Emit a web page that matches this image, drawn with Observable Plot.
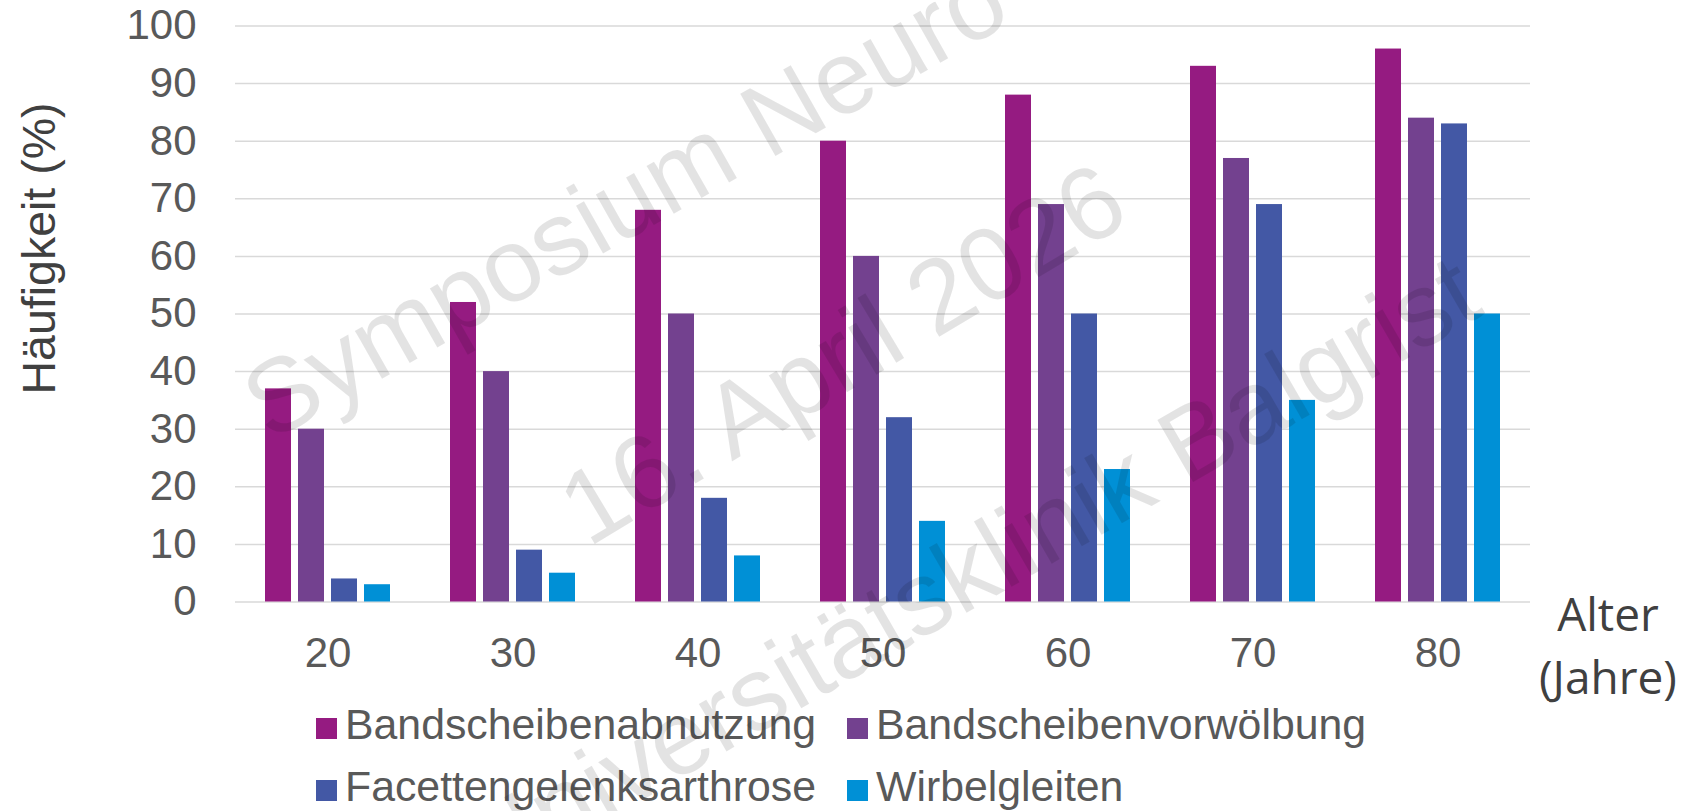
<!DOCTYPE html>
<html>
<head>
<meta charset="utf-8">
<script src="https://cdn.jsdelivr.net/npm/d3@7"></script>
<script src="https://cdn.jsdelivr.net/npm/@observablehq/plot@0.6"></script>
<style>
  html, body { margin: 0; padding: 0; background: #ffffff; }
  #chart { position: relative; width: 1685px; height: 811px; overflow: hidden;
           font-family: "Liberation Sans", Arial, sans-serif; }
  #chart > svg.plot { position: absolute; left: 0; top: 0; }
  .legend-item { position: absolute; font-size: 42.8px; line-height: 42.8px; color: #595959; white-space: nowrap; }
  .legend-item .sw { display: inline-block; width: 21px; height: 21px; margin-right: 8px; vertical-align: baseline; }
  #overlay { position: absolute; left: 0; top: 0; pointer-events: none; }
</style>
</head>
<body>
<div id="chart"></div>
<script>
// ---- data ----
const ages = ["20", "30", "40", "50", "60", "70", "80"];
const seriesNames = ["Bandscheibenabnutzung", "Bandscheibenvorwölbung", "Facettengelenksarthrose", "Wirbelgleiten"];
const bandscheibenabnutzung = [37, 52, 68, 80, 88, 93, 96];
const bandscheibenvorwoelbung = [30, 40, 50, 60, 69, 77, 84];
const facettengelenksarthrose = [4, 9, 18, 32, 50, 69, 83];
const wirbelgleiten = [3, 5, 8, 14, 23, 35, 50];
const seriesColors = ["#951b81", "#73418f", "#4358a5", "#0090d6"];
const yTicks = [0, 10, 20, 30, 40, 50, 60, 70, 80, 90, 100];
const yTitle = "Häufigkeit (%)";
const xTitle = ["Alter", "(Jahre)"];
const watermarkLines = ["Symposium Neuro", "16. April 2026", "Universitätsklinik Balgrist"];

// ---- table ----
const seriesValues = [bandscheibenabnutzung, bandscheibenvorwoelbung, facettengelenksarthrose, wirbelgleiten];
const rows = [];
ages.forEach((age, i) => {
  seriesNames.forEach((s, j) => rows.push({age, series: s, value: seriesValues[j][i]}));
});

const W = 1685, H = 700;
const plot = Plot.plot({
  width: W,
  height: H,
  marginLeft: 232,
  marginRight: 152,
  marginTop: 25.5,
  marginBottom: 98.5,
  style: {fontFamily: "'Liberation Sans', Arial, sans-serif", background: "transparent", overflow: "visible"},
  fx: {domain: ages, padding: 0, label: null},
  x: {domain: seriesNames, paddingInner: 0.22, paddingOuter: 0.87, axis: null},
  y: {domain: [0, 100], label: null},
  color: {domain: seriesNames, range: seriesColors},
  marks: [
    Plot.ruleY(yTicks, {stroke: "#d9d9d9", strokeWidth: 1.5}),
    Plot.barY(rows, {fx: "age", x: "series", y: "value", fill: "series"}),
    Plot.axisY({ticks: yTicks, tickSize: 0, tickPadding: 39, fontSize: 42, color: "#595959", label: null}),
    Plot.axisFx({anchor: "bottom", tickSize: 0, tickPadding: 35.5, fontSize: 42, color: "#595959", label: null})
  ]
});
plot.classList.add("plot");
const chart = document.getElementById("chart");
chart.appendChild(plot);

// ---- legend (HTML, below the plot area) ----
const legendPos = [[316, 739], [847, 739], [316, 801.5], [847, 801.5]];
seriesNames.forEach((name, i) => {
  const div = document.createElement("div");
  div.className = "legend-item";
  div.style.left = legendPos[i][0] + "px";
  div.style.top = (legendPos[i][1] - 36.2) + "px";
  const sw = document.createElement("span");
  sw.className = "sw";
  sw.style.background = seriesColors[i];
  div.appendChild(sw);
  div.appendChild(document.createTextNode(name));
  chart.appendChild(div);
});

// ---- overlay: axis titles and watermark ----
const ov = d3.select(chart).append("svg")
  .attr("id", "overlay").attr("width", 1685).attr("height", 811);

ov.append("text")
  .attr("transform", "translate(55,248.5) rotate(-90)")
  .attr("text-anchor", "middle")
  .attr("font-family", "'Liberation Sans', Arial, sans-serif")
  .attr("font-size", 46.5)
  .attr("fill", "#404040")
  .text(yTitle);

const xt = ov.append("text")
  .attr("text-anchor", "middle")
  .attr("font-family", "'Open Sans', 'Noto Sans', sans-serif")
  .attr("font-size", 46)
  .attr("fill", "#404040");
xt.append("tspan").attr("x", 1608).attr("y", 631).text(xTitle[0]);
xt.append("tspan").attr("x", 1608).attr("y", 694).text(xTitle[1]);

const wmPlacement = [[270, 442, -29.5], [588, 548, -31], [490, 888, -30]];
watermarkLines.forEach((t, i) => {
  const [x, y, a] = wmPlacement[i];
  ov.append("text")
    .attr("transform", `translate(${x},${y}) rotate(${a})`)
    .attr("font-family", "'Liberation Sans', Arial, sans-serif")
    .attr("font-size", 104)
    .attr("fill", "#000000")
    .attr("fill-opacity", 0.11)
    .text(t);
});
</script>
</body>
</html>
